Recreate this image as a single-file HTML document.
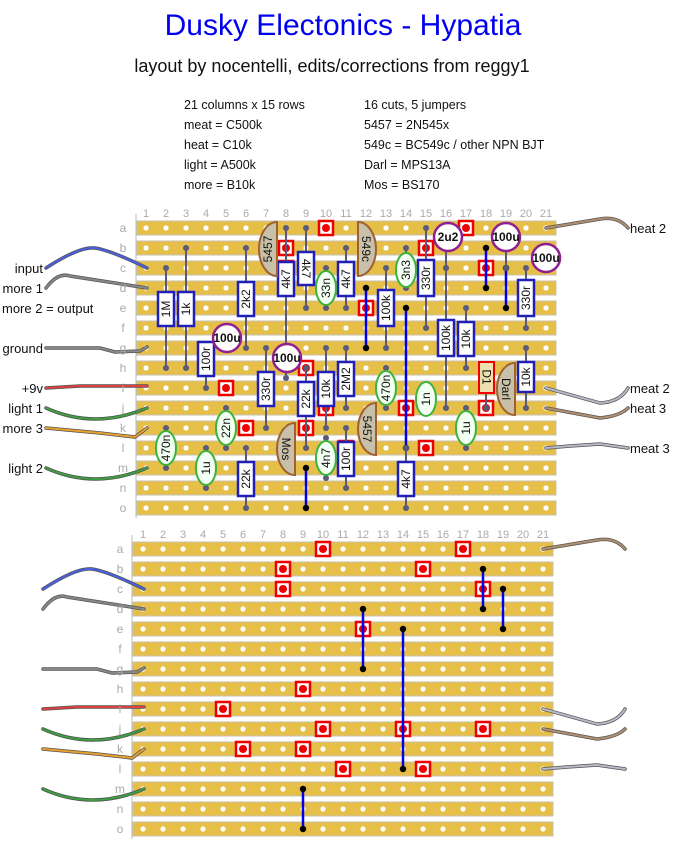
<!DOCTYPE html>
<html><head><meta charset="utf-8"><style>
html,body{margin:0;padding:0;background:#fff;}
svg{display:block;font-family:"Liberation Sans",sans-serif;}
.lbl{fill:#aaa;font-size:11px;text-anchor:middle;}
.rl{fill:#aaa;font-size:12px;text-anchor:middle;}
.ld{stroke:#5a5a78;stroke-width:2;}
.res{fill:#fff;stroke:#2020b8;stroke-width:2.5;}
.ct{font-size:12px;fill:#111;text-anchor:middle;dominant-baseline:central;}
.cap{fill:#f4fff4;stroke:#3cb43c;stroke-width:2;}
.el{fill:#fff;stroke:#902090;stroke-width:2.5;}
.tr{fill:#c8c0a8;stroke:#a06030;stroke-width:2;}
.wl{font-size:13px;fill:#111;}
</style></head><body>
<svg id="s" width="686" height="846" viewBox="0 0 686 846" xmlns="http://www.w3.org/2000/svg">
<text x="343" y="35" font-size="30" fill="#0000ee" text-anchor="middle">Dusky Electonics - Hypatia</text>
<text x="332" y="72" font-size="18" fill="#111" text-anchor="middle">layout by nocentelli, edits/corrections from reggy1</text>
<g font-size="12.5" fill="#111">
<text x="184" y="109">21 columns x 15 rows</text>
<text x="184" y="129">meat = C500k</text>
<text x="184" y="149">heat = C10k</text>
<text x="184" y="169">light = A500k</text>
<text x="184" y="189">more = B10k</text>
<text x="364" y="109">16 cuts, 5 jumpers</text>
<text x="364" y="129">5457 = 2N545x</text>
<text x="364" y="149">549c = BC549c / other NPN BJT</text>
<text x="364" y="169">Darl = MPS13A</text>
<text x="364" y="189">Mos = BS170</text>
</g>
<g id="boards"></g>
<g class="lbl">
<text x="146" y="217">1</text><text x="166" y="217">2</text><text x="186" y="217">3</text><text x="206" y="217">4</text><text x="226" y="217">5</text><text x="246" y="217">6</text><text x="266" y="217">7</text><text x="286" y="217">8</text><text x="306" y="217">9</text><text x="326" y="217">10</text><text x="346" y="217">11</text><text x="366" y="217">12</text><text x="386" y="217">13</text><text x="406" y="217">14</text><text x="426" y="217">15</text><text x="446" y="217">16</text><text x="466" y="217">17</text><text x="486" y="217">18</text><text x="506" y="217">19</text><text x="526" y="217">20</text><text x="546" y="217">21</text>
<text x="143" y="538">1</text><text x="163" y="538">2</text><text x="183" y="538">3</text><text x="203" y="538">4</text><text x="223" y="538">5</text><text x="243" y="538">6</text><text x="263" y="538">7</text><text x="283" y="538">8</text><text x="303" y="538">9</text><text x="323" y="538">10</text><text x="343" y="538">11</text><text x="363" y="538">12</text><text x="383" y="538">13</text><text x="403" y="538">14</text><text x="423" y="538">15</text><text x="443" y="538">16</text><text x="463" y="538">17</text><text x="483" y="538">18</text><text x="503" y="538">19</text><text x="523" y="538">20</text><text x="543" y="538">21</text>
</g>
<g class="rl">
<text x="123" y="232">a</text><text x="123" y="252">b</text><text x="123" y="272">c</text><text x="123" y="292">d</text><text x="123" y="312">e</text><text x="123" y="332">f</text><text x="123" y="352">g</text><text x="123" y="372">h</text><text x="123" y="392">i</text><text x="123" y="412">j</text><text x="123" y="432">k</text><text x="123" y="452">l</text><text x="123" y="472">m</text><text x="123" y="492">n</text><text x="123" y="512">o</text>
<text x="120" y="553">a</text><text x="120" y="573">b</text><text x="120" y="593">c</text><text x="120" y="613">d</text><text x="120" y="633">e</text><text x="120" y="653">f</text><text x="120" y="673">g</text><text x="120" y="693">h</text><text x="120" y="713">i</text><text x="120" y="733">j</text><text x="120" y="753">k</text><text x="120" y="773">l</text><text x="120" y="793">m</text><text x="120" y="813">n</text><text x="120" y="833">o</text>
</g>
<g id="comp"></g>
<g class="wl">
<text x="43" y="273" text-anchor="end">input</text>
<text x="43" y="293" text-anchor="end">more 1</text>
<text x="2" y="313">more 2 = output</text>
<text x="43" y="353" text-anchor="end">ground</text>
<text x="43" y="393" text-anchor="end">+9v</text>
<text x="43" y="413" text-anchor="end">light 1</text>
<text x="43" y="433" text-anchor="end">more 3</text>
<text x="43" y="473" text-anchor="end">light 2</text>
<text x="630" y="233">heat 2</text>
<text x="630" y="393">meat 2</text>
<text x="630" y="413">heat 3</text>
<text x="630" y="453">meat 3</text>
</g>
</svg>
<script>
var NS="http://www.w3.org/2000/svg";
function el(p,t,a,txt){var e=document.createElementNS(NS,t);for(var k in a)e.setAttribute(k,a[k]);if(txt)e.textContent=txt;p.appendChild(e);return e;}
var B=document.getElementById("boards"),C=document.getElementById("comp");
var cuts=[[10,0],[17,0],[8,1],[15,1],[8,2],[18,2],[12,4],[9,7],[5,8],[10,9],[14,9],[18,9],[6,10],[9,10],[11,11],[15,11]];
var jum=[[12,3,6],[14,4,11],[18,1,3],[19,2,4],[9,12,14]];
function board(x0,y0,left,w){
 el(B,"line",{x1:left-1,y1:y0-14,x2:left-1,y2:y0+14*20+10,stroke:"#bbb","stroke-width":1});
 for(var r=0;r<15;r++){var y=y0+20*r;
  el(B,"rect",{x:left,y:y-7,width:w,height:14,fill:"#e6bf48",stroke:"#c8c0b0","stroke-width":1});
  for(var c=1;c<=21;c++)el(B,"circle",{cx:x0+20*(c-1),cy:y,r:2.6,fill:"#fff"});}
 cuts.forEach(function(k){var x=x0+20*(k[0]-1),y=y0+20*k[1];
  el(B,"rect",{x:x-7,y:y-7,width:14,height:14,fill:"#fff",stroke:"#ee0000","stroke-width":2.5});
  el(B,"circle",{cx:x,cy:y,r:4,fill:"#ee0000"});});
 jum.forEach(function(j){var x=x0+20*(j[0]-1);
  el(B,"line",{x1:x,y1:y0+20*j[1],x2:x,y2:y0+20*j[2],stroke:"#0000ee","stroke-width":2.5});
  el(B,"circle",{cx:x,cy:y0+20*j[1],r:3.2,fill:"#000"});el(B,"circle",{cx:x,cy:y0+20*j[2],r:3.2,fill:"#000"});});
 var dx=x0-146,dy=y0-228;
 function wire(d,col){var g=el(B,"g",{transform:"translate("+dx+","+dy+")"});
  el(g,"path",{d:d,fill:"none",stroke:"#555","stroke-width":3.5,"stroke-linecap":"round"});
  el(g,"path",{d:d,fill:"none",stroke:col,"stroke-width":2,"stroke-linecap":"round"});}
 wire("M46,268 Q80,246 95,248 Q110,250 147,268","#4a60e0");
 wire("M46,288 Q58,272 70,276 L147,288","#888");
 wire("M46,348 L100,348 L115,352 L140,351 L147,347","#888");
 wire("M46,388 L80,386 L147,386","#e04040");
 wire("M46,408 Q95,430 147,408","#3ca040");
 wire("M46,428 L100,433 L135,437 L147,428","#e8a030");
 wire("M46,468 Q95,490 147,468","#3ca040");
 wire("M546,228 L600,219 Q618,216 628,228","#b09070");
 wire("M546,388 L600,403 Q620,402 628,388","#b8b8c8");
 wire("M546,408 L600,418 Q620,416 628,408","#b09070");
 wire("M546,448 L570,446 L600,444 L628,448","#b8b8c8");
}
board(146,228,137,419);
board(143,549,133,420);
function X(c){return 146+20*(c-1);}
function lead(x,y1,y2){el(C,"line",{x1:x,y1:y1,x2:x,y2:y2,"class":"ld"});el(C,"circle",{cx:x,cy:y1,r:3,fill:"#5a5a78"});el(C,"circle",{cx:x,cy:y2,r:3,fill:"#5a5a78"});}
function res(c,y1,y2,b1,b2,rot){var x=X(c);lead(x,y1,y2);el(C,"rect",{x:x-8,y:b1,width:16,height:b2-b1,"class":"res"});return [x,(b1+b2)/2,rot||-90];}
function cap(c,cy,y1,y2){var x=X(c);lead(x,y1,y2);el(C,"ellipse",{cx:x,cy:cy,rx:10,ry:17,"class":"cap"});return [x,cy,-90];}
function elc(cx,cy){el(C,"circle",{cx:cx,cy:cy,r:14,"class":"el"});return [cx,cy,0];}
function tr(xf,y1,y2,dir){var h=(y2-y1)/2;var d="M"+xf+","+y1+" A18,"+h+" 0 0 "+(dir<0?0:1)+" "+xf+","+y2+" Z";el(C,"path",{d:d,"class":"tr"});}
var T=[];
lead(X(5),328,348);lead(X(8),368,378);lead(X(16),248,268);lead(X(19),248,268);lead(X(21),248,268);lead(X(18),368,408);
T.push(["1M"].concat(res(2,268,368,292,326)));
T.push(["1k"].concat(res(3,248,368,292,326)));
T.push(["2k2"].concat(res(6,248,348,282,316)));
T.push(["4k7"].concat(res(8,228,348,262,296)));
T.push(["4k7"].concat(res(9,228,308,252,285,90)));
T.push(["4k7"].concat(res(11,248,308,262,296)));
T.push(["100k"].concat(res(13,268,348,290,326)));
T.push(["330r"].concat(res(15,228,328,260,296)));
T.push(["100k"].concat(res(16,268,408,320,356)));
T.push(["10k"].concat(res(17,308,368,322,356)));
T.push(["330r"].concat(res(20,268,328,280,316)));
T.push(["100r"].concat(res(4,348,388,342,376)));
T.push(["330r"].concat(res(7,348,428,372,406)));
T.push(["22k"].concat(res(9,368,448,382,416)));
T.push(["10k"].concat(res(10,348,428,372,406)));
T.push(["2M2"].concat(res(11,348,408,362,396)));
T.push(["100r"].concat(res(11,428,488,442,476)));
T.push(["10k"].concat(res(20,348,408,362,392)));
T.push(["22k"].concat(res(6,448,508,462,496)));
T.push(["4k7"].concat(res(14,448,508,462,496)));
T.push(["33n"].concat(cap(10,288,268,308)));
T.push(["3n3"].concat(cap(14,270,248,288)));
T.push(["470n"].concat(cap(13,388,368,408)));
T.push(["1n"].concat(cap(15,399,388,408)));
T.push(["1u"].concat(cap(17,428,408,448)));
T.push(["470n"].concat(cap(2,448,428,468)));
T.push(["1u"].concat(cap(4,468,448,488)));
T.push(["22n"].concat(cap(5,428,408,448)));
T.push(["4n7"].concat(cap(10,458,438,478)));
T.push(["100u"].concat(elc(227,338)));
T.push(["100u"].concat(elc(287,358)));
T.push(["2u2"].concat(elc(448,237)));
T.push(["100u"].concat(elc(506,237)));
T.push(["100u"].concat(elc(546,258)));
tr(277,222,276,-1);T.push(["5457",268,249,-90]);
tr(358,222,276,1);T.push(["549c",366,249,90]);
tr(376,403,455,-1);T.push(["5457",367,429,90]);
tr(295,423,475,-1);T.push(["Mos",286,449,90]);
tr(515,363,415,-1);T.push(["Darl",506,389,90]);
el(C,"rect",{x:479,y:362,width:15,height:31,fill:"#f0e0b0",stroke:"#ee0000","stroke-width":2});T.push(["D1",486.5,377,90]);
T.forEach(function(t){el(C,"text",{"class":"ct",transform:"translate("+t[1]+","+t[2]+") rotate("+t[3]+")","font-weight":t[3]==0?"bold":"normal"},t[0]);});
</script>
</body></html>
